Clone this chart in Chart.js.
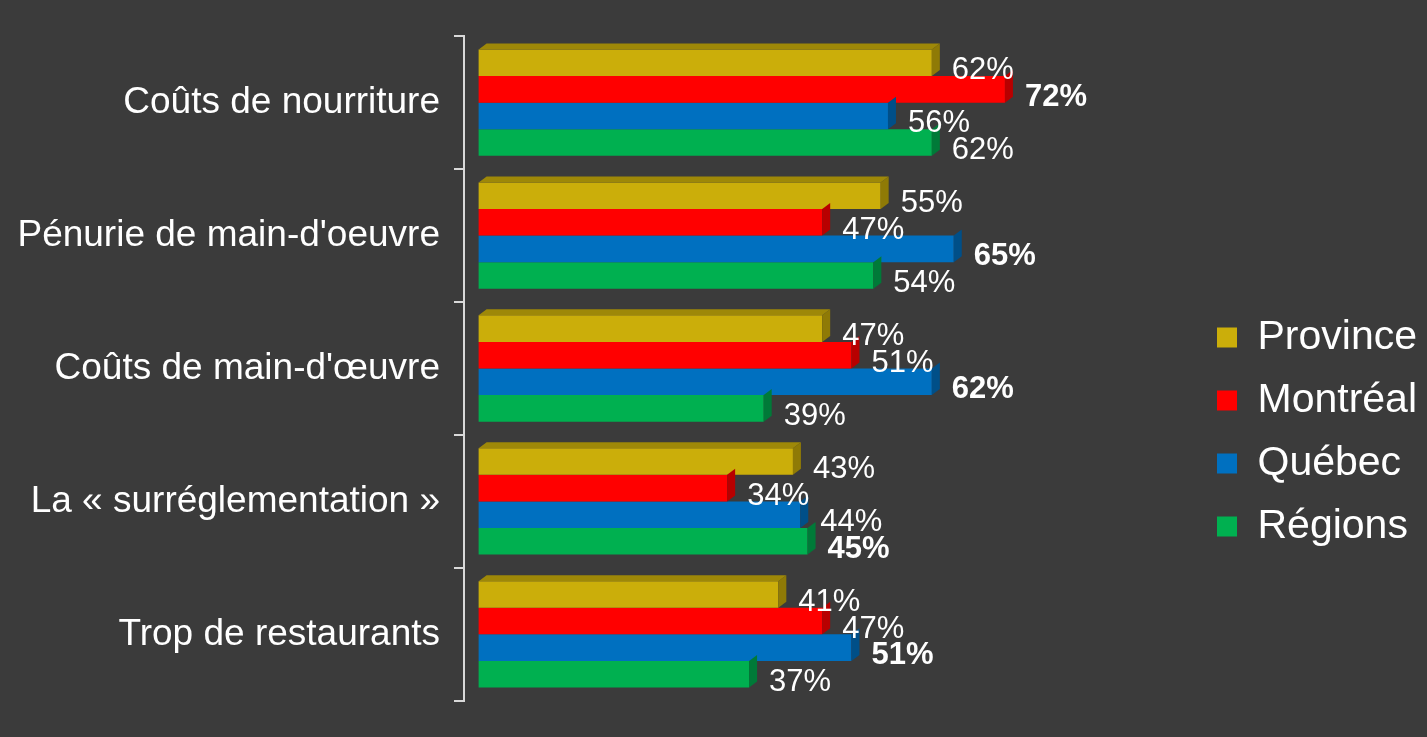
<!DOCTYPE html>
<html>
<head>
<meta charset="utf-8">
<script src="https://cdn.jsdelivr.net/npm/chart.js@4.4.1/dist/chart.umd.min.js"></script>
<style>
  html, body { margin: 0; padding: 0; background: #3b3b3b; }
  #wrap { width: 1427px; height: 737px; }
</style>
</head>
<body>
<div id="wrap"><canvas id="issuesChart"></canvas></div>
<script>
const categories = [
    'Coûts de nourriture',
    "Pénurie de main-d'oeuvre",
    "Coûts de main-d'œuvre",
    'La « surréglementation »',
    'Trop de restaurants'
];
const province = [62, 55, 47, 43, 41];
const montreal = [72, 47, 51, 34, 47];
const quebec = [56, 65, 62, 44, 51];
const regions = [62, 54, 39, 45, 37];

const seriesNames = ['Province', 'Montréal', 'Québec', 'Régions'];
const seriesColors = ['#cbae0a', '#ff0000', '#0070c0', '#00b050'];
const sideColors = ['#8f7a06', '#b80000', '#004f88', '#007a38'];
const fontFamily = '"Liberation Sans", Arial, sans-serif';

// fake 3D faces + value labels
const depthPlugin = {
    id: 'depth',
    afterDatasetsDraw(chart) {
        const ctx = chart.ctx;
        const dx = 8, dy = -6;
        ctx.save();
        chart.data.datasets.forEach((ds, di) => {
            const meta = chart.getDatasetMeta(di);
            meta.data.forEach((bar) => {
                const top = bar.y - bar.height / 2;
                const bot = bar.y + bar.height / 2;
                ctx.fillStyle = sideColors[di];
                ctx.beginPath();
                ctx.moveTo(bar.x, top);
                ctx.lineTo(bar.x + dx, top + dy);
                ctx.lineTo(bar.x + dx, bot + dy);
                ctx.lineTo(bar.x, bot);
                ctx.closePath();
                ctx.fill();
                if (di === 0) {
                    ctx.fillStyle = '#9e8808';
                    ctx.beginPath();
                    ctx.moveTo(bar.base, top);
                    ctx.lineTo(bar.base + dx, top + dy);
                    ctx.lineTo(bar.x + dx, top + dy);
                    ctx.lineTo(bar.x, top);
                    ctx.closePath();
                    ctx.fill();
                }
            });
        });
        chart.data.labels.forEach((lab, ci) => {
            const vals = chart.data.datasets.map(d => d.data[ci]);
            const best = Math.max(...vals);
            chart.data.datasets.forEach((ds, di) => {
                const bar = chart.getDatasetMeta(di).data[ci];
                const v = ds.data[ci];
                ctx.font = (v === best ? 'bold ' : '') + '31px ' + fontFamily;
                ctx.fillStyle = '#ffffff';
                ctx.textAlign = 'left';
                ctx.textBaseline = 'middle';
                ctx.fillText(v + '%', bar.x + dx + 12, bar.y + 8);
            });
        });
        ctx.restore();
    }
};

const ctx = document.getElementById('issuesChart').getContext('2d');
const chart = new Chart(ctx, {
    type: 'bar',
    data: {
        labels: categories,
        datasets: [province, montreal, quebec, regions].map((vals, i) => ({
            label: seriesNames[i],
            data: vals,
            backgroundColor: seriesColors[i],
            borderWidth: 0,
            barPercentage: 1,
            categoryPercentage: 0.8
        }))
    },
    options: {
        indexAxis: 'y',
        responsive: true,
        maintainAspectRatio: false,
        animation: false,
        layout: {
            padding: { left: 0, top: 36, bottom: 27, right: 0 }
        },
        plugins: {
            legend: {
                position: 'right',
                title: {
                    display: true,
                    text: ' ',
                    font: { size: 10 },
                    padding: { top: 56, bottom: 50 }
                },
                labels: {
                    color: '#ffffff',
                    boxWidth: 20,
                    boxHeight: 20,
                    padding: 22,
                    font: { size: 41, family: fontFamily }
                }
            },
            tooltip: { enabled: false }
        },
        scales: {
            x: {
                min: -2,
                max: 98,
                display: false
            },
            y: {
                afterFit(scale) {
                    scale.width = 464;
                },
                grid: {
                    display: true,
                    drawOnChartArea: false,
                    offset: true,
                    color: '#d9d9d9',
                    tickLength: 10,
                    lineWidth: 2
                },
                border: { display: true, color: '#d9d9d9', width: 2 },
                ticks: {
                    color: '#ffffff',
                    padding: 14,
                    font: { size: 37, family: fontFamily }
                }
            }
        }
    },
    plugins: [depthPlugin]
});
</script>
</body>
</html>
